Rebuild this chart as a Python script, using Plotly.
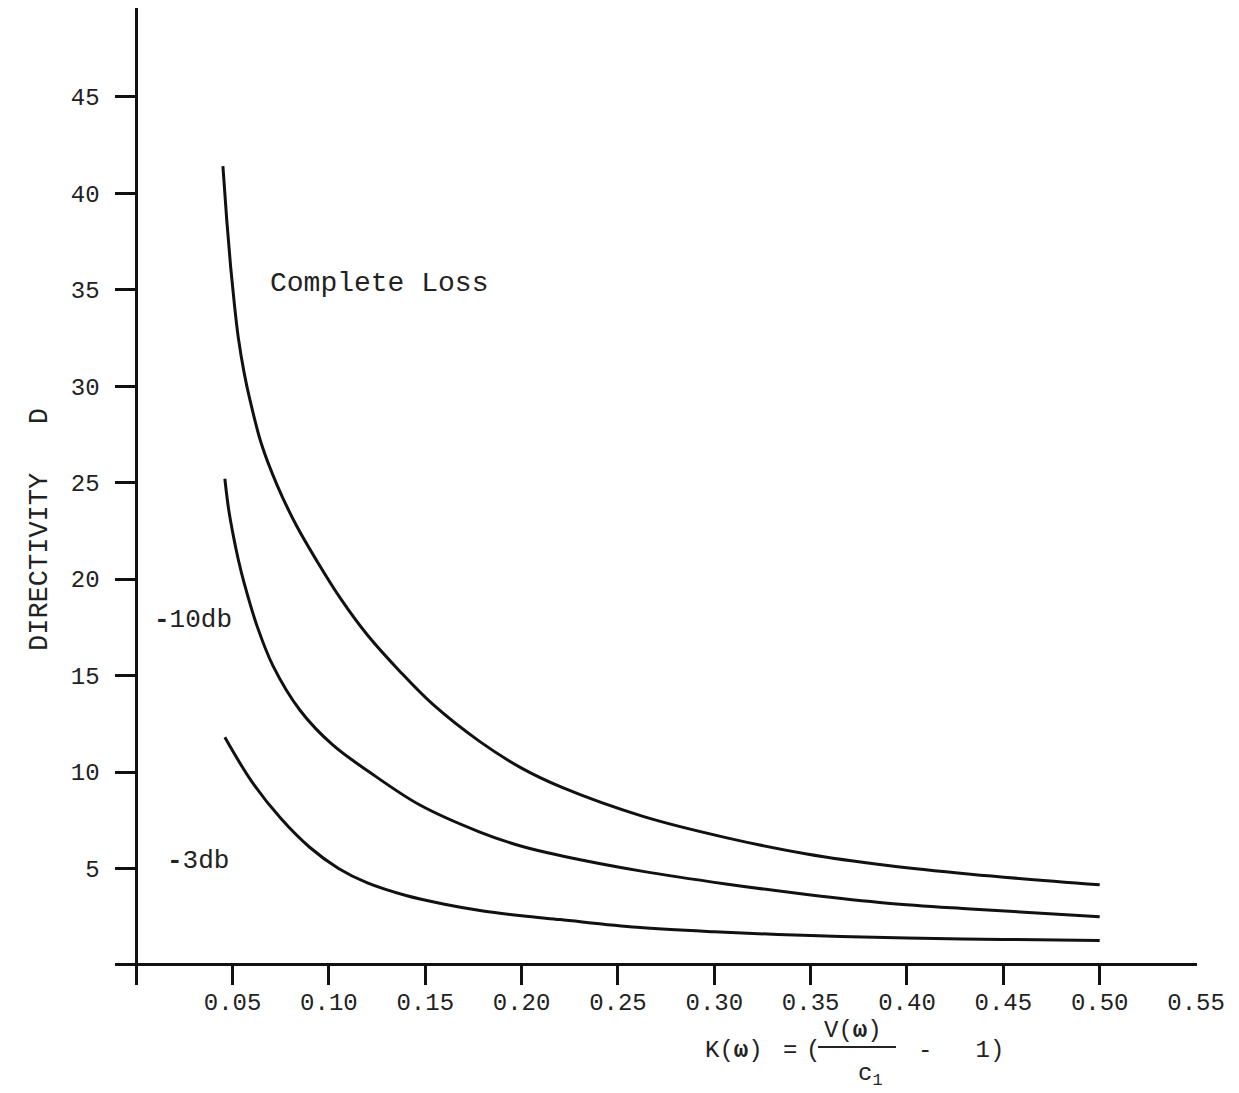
import plotly.graph_objects as go

# ---- data ----
k_complete = [0.045, 0.047, 0.049, 0.051, 0.053, 0.056, 0.059, 0.065, 0.073, 0.083, 0.094, 0.106,
              0.120, 0.137, 0.154, 0.178, 0.200, 0.221, 0.263, 0.306, 0.348, 0.390, 0.433, 0.500]
d_complete = [41.4, 38.6, 36.2, 34.2, 32.5, 30.7, 29.3, 27.0, 24.9, 22.8, 20.9, 19.0,
              17.1, 15.2, 13.5, 11.6, 10.2, 9.2, 7.7, 6.6, 5.75, 5.15, 4.7, 4.15]

k_10db = [0.046, 0.048, 0.0505, 0.053, 0.056, 0.0626, 0.071, 0.085, 0.102, 0.121, 0.147, 0.178,
          0.200, 0.221, 0.263, 0.306, 0.348, 0.390, 0.433, 0.500]
d_10db = [25.2, 23.6, 22.2, 21.0, 19.8, 17.6, 15.5, 13.2, 11.4, 10.0, 8.3, 6.9,
          6.15, 5.65, 4.85, 4.2, 3.65, 3.2, 2.9, 2.5]

k_3db = [0.046, 0.060, 0.075, 0.090, 0.105, 0.120, 0.140, 0.160, 0.180, 0.200, 0.220,
         0.260, 0.300, 0.350, 0.400, 0.450, 0.500]
d_3db = [11.8, 9.5, 7.6, 6.1, 5.0, 4.25, 3.6, 3.15, 2.8, 2.55, 2.35,
         1.95, 1.72, 1.52, 1.4, 1.32, 1.27]

x_ticks = [0.05, 0.10, 0.15, 0.20, 0.25, 0.30, 0.35, 0.40, 0.45, 0.50, 0.55]
x_ticklabels = ["0.05", "0.10", "0.15", "0.20", "0.25", "0.30", "0.35", "0.40", "0.45", "0.50", "0.55"]
y_ticks = [5, 10, 15, 20, 25, 30, 35, 40, 45]
y_ticklabels = ["5", "10", "15", "20", "25", "30", "35", "40", "45"]

FONT = "Liberation Mono"
INK = "#111111"
TXT = "#222222"
NB = "\u00a0"

fig = go.Figure()
for xs, ys in [(k_complete, d_complete), (k_10db, d_10db), (k_3db, d_3db)]:
    fig.add_trace(go.Scatter(x=xs, y=ys, mode="lines",
                             line=dict(color=INK, width=3, shape="spline", smoothing=1.0),
                             showlegend=False, hoverinfo="skip"))

fig.update_layout(
    width=1239, height=1093,
    margin=dict(l=115, r=42, t=8, b=108),
    paper_bgcolor="white", plot_bgcolor="white",
    font=dict(family=FONT, size=24, color=TXT),
    xaxis=dict(range=[-0.011, 0.5505], tickvals=x_ticks, ticktext=x_ticklabels,
               ticks="inside", ticklen=20, tickwidth=3, tickcolor=INK,
               showgrid=False, showline=False, zeroline=True, zerolinecolor=INK, zerolinewidth=3,
               tickfont=dict(family=FONT, size=24, color=TXT)),
    yaxis=dict(range=[-1.04, 49.6], tickvals=y_ticks, ticktext=[t + NB for t in y_ticklabels],
               ticks="inside", ticklen=20, tickwidth=3, tickcolor=INK,
               showgrid=False, showline=False, zeroline=True, zerolinecolor=INK, zerolinewidth=3,
               tickfont=dict(family=FONT, size=24, color=TXT)),
)

# curve labels
fig.add_annotation(x=0.0685, y=35.3, text="Complete Loss", showarrow=False, xanchor="left",
                   font=dict(family=FONT, size=28, color=TXT))
fig.add_annotation(x=0.0083, y=17.9, text="<b>-</b>10db", showarrow=False, xanchor="left",
                   font=dict(family=FONT, size=26, color=TXT))
fig.add_annotation(x=0.015, y=5.4, text="<b>-</b>3db", showarrow=False, xanchor="left",
                   font=dict(family=FONT, size=26, color=TXT))

# paper helpers
W, H = 1239, 1093
L, R, T, B = 115, 42, 8, 108
def px(xp):
    return (xp - L) / (W - L - R)
def py(yp):
    return 1 - (yp - T) / (H - T - B)

# y title
fig.add_annotation(xref="paper", yref="paper", x=px(40), y=py(530), text="DIRECTIVITY" + NB * 3 + "D",
                   textangle=-90, showarrow=False, xanchor="center", yanchor="middle",
                   font=dict(family=FONT, size=27, color=TXT))

# x title: K(ω) = (V(ω)/c1 - 1)
fig.add_annotation(xref="paper", yref="paper", x=px(703), y=py(1050), xanchor="left", yanchor="middle",
                   text="K(<b>ω</b>)", showarrow=False, font=dict(family=FONT, size=24, color=TXT))
fig.add_annotation(xref="paper", yref="paper", x=px(790), y=py(1050), xanchor="center", yanchor="middle",
                   text="=", showarrow=False, font=dict(family=FONT, size=24, color=TXT))
fig.add_annotation(xref="paper", yref="paper", x=px(813), y=py(1050), xanchor="center", yanchor="middle",
                   text="(", showarrow=False, font=dict(family=FONT, size=24, color=TXT))
fig.add_annotation(xref="paper", yref="paper", x=px(853), y=py(1030), xanchor="center", yanchor="middle",
                   text="V(<b>ω</b>)", showarrow=False, font=dict(family=FONT, size=24, color=TXT))
fig.add_annotation(xref="paper", yref="paper", x=px(870), y=py(1075), xanchor="center", yanchor="middle",
                   text="c<sub>1</sub>", showarrow=False, font=dict(family=FONT, size=24, color=TXT))
fig.add_annotation(xref="paper", yref="paper", x=px(916), y=py(1050), xanchor="left", yanchor="middle",
                   text="-" + NB * 3 + "1)", showarrow=False, font=dict(family=FONT, size=24, color=TXT))
fig.add_shape(type="line", xref="paper", yref="paper", x0=px(818), x1=px(896), y0=py(1047), y1=py(1047),
              line=dict(color=TXT, width=2))

fig.write_html("out.html")
